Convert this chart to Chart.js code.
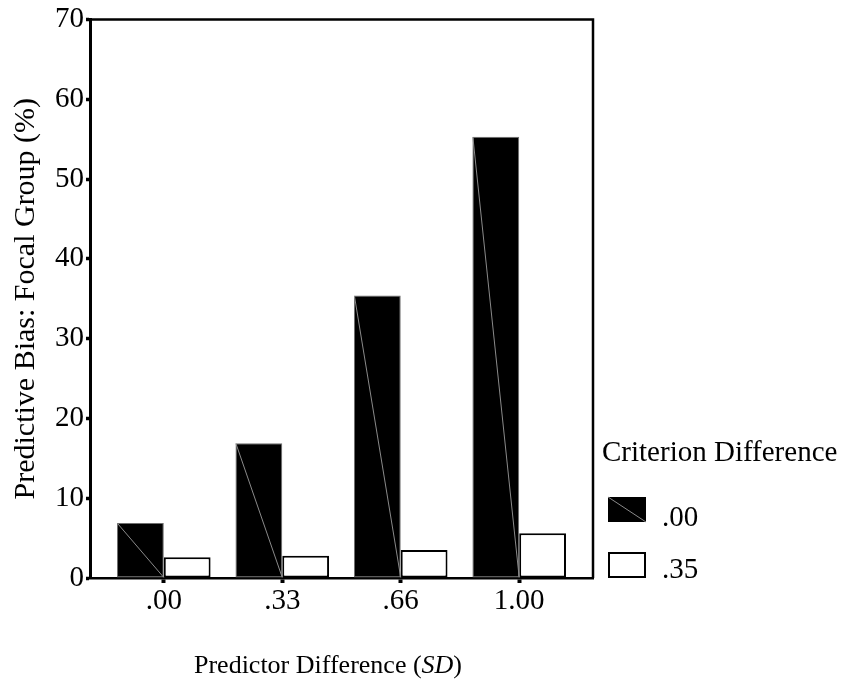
<!DOCTYPE html>
<html><head><meta charset="utf-8">
<script src="https://cdn.jsdelivr.net/npm/chart.js@4"></script>
<style>html,body{margin:0;padding:0;background:#fff;overflow:hidden}</style>
</head><body>
<canvas id="c" width="846" height="679" style="width:846px;height:679px;display:block"></canvas>
<script>
// ---- data ----
const categories = ['.00', '.33', '.66', '1.00'];
const seriesLabels = ['.00', '.35'];
const criterion00 = [6.9, 16.9, 35.4, 55.3];
const criterion35 = [2.6, 2.8, 3.5, 5.6];
const yTicks = [0, 10, 20, 30, 40, 50, 60, 70];
const xTitleParts = [['Predictor Difference (', false], ['SD', true], [')', false]];
const yTitle = 'Predictive Bias: Focal Group (%)';
const legendTitle = 'Criterion Difference';

const FONT = "'Liberation Serif', 'Times New Roman', serif";
const FS = 29;
const FS_X = 26;
const FS_Y = 30;

const extras = {
  id: 'extras',
  afterDatasetsDraw(chart) {
    const ctx = chart.ctx;
    const meta = chart.getDatasetMeta(0);
    ctx.save();
    ctx.strokeStyle = '#8a8a8a';
    ctx.lineWidth = 1;
    meta.data.forEach(el => {
      const p = el.getProps(['x', 'y', 'base', 'width'], true);
      ctx.beginPath();
      ctx.moveTo(p.x - p.width / 2 + 0.5, p.y + 0.5);
      ctx.lineTo(p.x + p.width / 2, p.base);
      ctx.stroke();
    });
    ctx.restore();
  },
  afterDraw(chart) {
    const ctx = chart.ctx;
    const a = chart.chartArea;
    ctx.save();
    // top and right frame lines
    ctx.strokeStyle = '#000';
    ctx.lineWidth = 2.5;
    ctx.beginPath();
    ctx.moveTo(a.left, a.top);
    ctx.lineTo(a.right, a.top);
    ctx.lineTo(a.right, a.bottom);
    ctx.stroke();

    // x title (with italic SD)
    ctx.fillStyle = '#000';
    ctx.textBaseline = 'alphabetic';
    ctx.textAlign = 'left';
    let total = 0;
    xTitleParts.forEach(([t, it]) => {
      ctx.font = (it ? 'italic ' : '') + FS_X + 'px ' + FONT;
      total += ctx.measureText(t).width;
    });
    let x = 328 - total / 2;
    xTitleParts.forEach(([t, it]) => {
      ctx.font = (it ? 'italic ' : '') + FS_X + 'px ' + FONT;
      ctx.fillText(t, x, 673);
      x += ctx.measureText(t).width;
    });

    // y title
    ctx.save();
    ctx.translate(34, (a.top + a.bottom) / 2);
    ctx.rotate(-Math.PI / 2);
    ctx.font = FS_Y + 'px ' + FONT;
    ctx.textAlign = 'center';
    ctx.fillText(yTitle, 0, 0);
    ctx.restore();

    // legend
    ctx.font = FS + 'px ' + FONT;
    ctx.textAlign = 'left';
    ctx.fillText(legendTitle, 602, 461);
    const ds = chart.data.datasets;
    const boxes = [[497, 526], [552, 578]];
    ds.forEach((d, i) => {
      const [by, ty] = boxes[i];
      ctx.fillStyle = d.backgroundColor;
      ctx.fillRect(608, by, 38, 25);
      if (i === 0) {
        ctx.strokeStyle = '#8a8a8a';
        ctx.lineWidth = 1;
        ctx.beginPath();
        ctx.moveTo(608, by);
        ctx.lineTo(646, by + 25);
        ctx.stroke();
      } else {
        ctx.strokeStyle = '#000';
        ctx.lineWidth = 2;
        ctx.strokeRect(609, by + 1, 36, 24);
      }
      ctx.fillStyle = '#000';
      ctx.fillText(d.label, 662, ty);
    });
    ctx.restore();
  }
};

new Chart(document.getElementById('c'), {
  type: 'bar',
  data: {
    datasets: [
      {
        label: seriesLabels[0],
        data: criterion00.map((v, i) => ({ x: i, y: v })),
        backgroundColor: '#000',
        borderColor: '#6e6e6e',
        borderWidth: 1,
        borderSkipped: false
      },
      {
        label: seriesLabels[1],
        data: criterion35.map((v, i) => ({ x: i, y: v })),
        backgroundColor: '#fff',
        borderColor: '#000',
        borderWidth: 2,
        borderSkipped: false
      }
    ]
  },
  plugins: [extras],
  options: {
    responsive: false,
    animation: false,
    devicePixelRatio: 1,
    categoryPercentage: 0.79,
    barPercentage: 1,
    layout: { autoPadding: false, padding: { left: 0, right: 253, top: 17, bottom: 0 } },
    plugins: { legend: { display: false }, tooltip: { enabled: false }, title: { display: false } },
    scales: {
      x: {
        type: 'linear',
        min: -0.623,
        max: 3.623,
        offset: false,
        afterBuildTicks: s => { s.ticks = categories.map((c, i) => ({ value: i })); },
        afterFit: s => { s.height = 101; },
        ticks: {
          autoSkip: false, maxRotation: 0, padding: 1, color: '#000',
          font: { family: FONT, size: FS },
          callback: v => categories[v]
        },
        grid: { offset: false, drawOnChartArea: false, drawTicks: true, tickLength: 5, tickWidth: 4, color: '#000' },
        border: { display: true, color: '#000', width: 2.5 }
      },
      y: {
        min: 0,
        max: 70,
        afterBuildTicks: s => { s.ticks = yTicks.map(v => ({ value: v })); },
        afterFit: s => { s.width = 90; },
        ticks: { padding: 2, color: '#000', font: { family: FONT, size: FS } },
        grid: { offset: false, drawOnChartArea: false, drawTicks: true, tickLength: 4, tickWidth: 3.5, color: '#000' },
        border: { display: true, color: '#000', width: 3 }
      }
    }
  }
});
</script>
</body></html>
